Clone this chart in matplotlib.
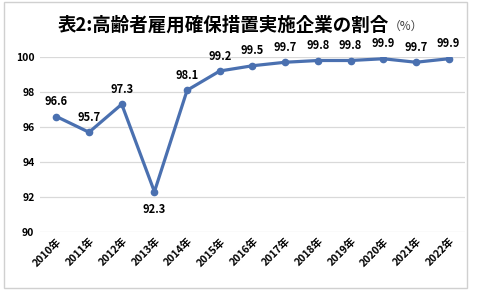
import matplotlib
matplotlib.use("Agg")
import matplotlib.pyplot as plt
from matplotlib.patches import Rectangle

plt.rcParams['font.family'] = ['Noto Sans CJK JP', 'DejaVu Sans']

years = ["2010年", "2011年", "2012年", "2013年", "2014年", "2015年", "2016年",
         "2017年", "2018年", "2019年", "2020年", "2021年", "2022年"]
values = [96.6, 95.7, 97.3, 92.3, 98.1, 99.2, 99.5, 99.7, 99.8, 99.8, 99.9, 99.7, 99.9]
yticks = [90, 92, 94, 96, 98, 100]
title = "表2:高齢者雇用確保措置実施企業の割合"
unit = "（%）"

fig = plt.figure(figsize=(4.85, 2.95), dpi=100)
fig.patches.append(Rectangle((4/485, 1 - 288/295), 463/485, 286/295,
                             transform=fig.transFigure, fill=False,
                             edgecolor='#d0d0d0', linewidth=1))
ax = fig.add_axes([40/485, 1 - 232/295, 425/485, 175/295])
x = list(range(len(years)))
ax.plot(x, values, color='#4a70b0', linewidth=2.3, marker='o', markersize=4.5, zorder=3)
ax.set_xlim(-0.5, len(years) - 0.5)
ax.set_ylim(90, 100)
ax.set_yticks(yticks)
ax.set_yticklabels([str(v) for v in yticks], fontsize=7.5, fontweight='bold')
ax.set_xticks(x)
ax.set_xticklabels(years, rotation=45, ha='right', rotation_mode='anchor',
                   fontsize=7.5, fontweight='bold')
ax.tick_params(axis='both', length=0, pad=4)
ax.tick_params(axis='x', pad=3)
ax.grid(axis='y', color='#d9d9d9', linewidth=0.9)
ax.set_axisbelow(True)
for s in ax.spines.values():
    s.set_visible(False)

for i, v in enumerate(values):
    if i == 3:
        ax.annotate(f"{v:.1f}", (i, v), xytext=(0, -8), textcoords='offset points',
                    ha='center', va='top', fontsize=8, fontweight='bold')
    else:
        ax.annotate(f"{v:.1f}", (i, v), xytext=(0, 6), textcoords='offset points',
                    ha='center', va='bottom', fontsize=8, fontweight='bold')

fig.text(389/485, 1 - 25/295, title, ha='right', va='center', fontsize=13.3, fontweight='bold')
fig.text(389/485, 1 - 26/295, unit, ha='left', va='center', fontsize=8.5, color='#404040')

fig.savefig("out.png", dpi=100, facecolor='white')
